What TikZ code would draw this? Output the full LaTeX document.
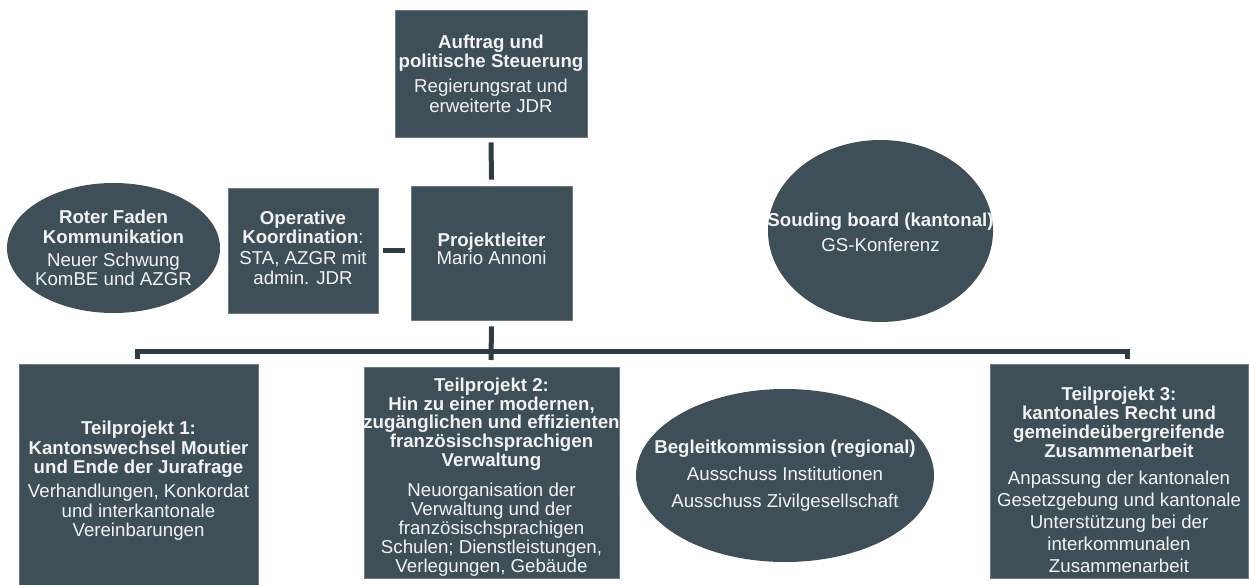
\documentclass[tikz,border=0pt]{standalone}
\usepackage{fontspec}
\setmainfont{Liberation Sans}
\usetikzlibrary{shapes.geometric}
\definecolor{boxc}{RGB}{62,79,88}
\definecolor{linec}{RGB}{46,61,69}
\definecolor{txtc}{RGB}{242,242,242}
\tikzset{
  base/.style={fill=boxc, inner sep=0pt, align=center, text=txtc,
    font=\fontsize{18.67}{19.5}\selectfont},
  rectbox/.style={base, rectangle, draw=boxc!75!white, line width=0.6pt},
  ovalbox/.style={fill=boxc, ellipse, inner sep=0pt},
  ovaltext/.style={inner sep=0pt, align=center, text=txtc,
    font=\fontsize{18.67}{19.5}\selectfont},
  conn/.style={draw=linec, line width=5pt}
}
\newcommand{\gap}{\\[4.5pt]}
\begin{document}
\begin{tikzpicture}[x=1pt,y=-1pt]
\useasboundingbox (0,0) rectangle (1249,585);
\clip (0,0) rectangle (1249,585);

\node[rectbox, minimum width=192pt, minimum height=127pt] (auftrag) at (491,73.5)
  {\textbf{Auftrag und}\\\textbf{politische Steuerung}\\[5.5pt]Regierungsrat und\\erweiterte JDR};
\node[rectbox, minimum width=161pt, minimum height=134pt] (proj) at (491.5,253) {};
\node[ovaltext] (projT) at (491.5,249) {\textbf{Projektleiter}\\[-2pt]Mario Annoni};
\node[rectbox, minimum width=150pt, minimum height=125pt] (oper) at (303,250.5) {};
\node[ovaltext] (operT) at (303,247.5)
  {\textbf{Operative}\\\textbf{Koordination}:\\[1.5pt]STA, AZGR mit\\admin. JDR};
\node[ovalbox, minimum width=213pt, minimum height=130pt] (roter) at (113.5,248) {};
\node[ovaltext] (roterT) at (113.5,248)
  {\textbf{Roter Faden}\\\textbf{Kommunikation}\\[3.5pt]Neuer Schwung\\KomBE und AZGR};
\node[ovalbox, minimum width=225pt, minimum height=182pt] (souding) at (880.5,231) {};
\node[ovaltext] (soudingT) at (880.5,232.5)
  {\textbf{Souding board (kantonal)}\\[5.5pt]GS-Konferenz};

\node[rectbox, minimum width=239pt, minimum height=234pt] (tp1) at (138.5,481)
  {\textbf{Teilprojekt 1:}\\\textbf{Kantonswechsel Moutier}\\\textbf{und Ende der Jurafrage}\gap
   Verhandlungen, Konkordat\\und interkantonale\\Vereinbarungen};
\node[rectbox, minimum width=255pt, minimum height=211pt] (tp2) at (491.5,472.5) {};
\node[ovaltext, font=\fontsize{18.67}{18.7}\selectfont] (tp2T) at (491.5,477)
  {\textbf{Teilprojekt 2:}\\\textbf{Hin zu einer modernen,}\\\textbf{zugänglichen und effizienten}\\
   \textbf{französischsprachigen}\\\textbf{Verwaltung}\\[11pt]
   Neuorganisation der\\[0.3pt]Verwaltung und der\\[0.3pt]französischsprachigen\\[0.3pt]Schulen; Dienstleistungen,\\[0.3pt]Verlegungen, Gebäude};
\node[ovalbox, minimum width=298pt, minimum height=173pt] (begleit) at (785,475.5) {};
\node[ovaltext] (begleitT) at (785,475.5)
  {\textbf{Begleitkommission (regional)}\\[7.5pt]Ausschuss Institutionen\\[7.5pt]Ausschuss Zivilgesellschaft};
\node[rectbox, minimum width=258pt, minimum height=214pt] (tp3) at (1119,471) {};
\node[ovaltext, font=\fontsize{18.67}{19}\selectfont] (tp3T) at (1119,480)
  {\textbf{Teilprojekt 3:}\\\textbf{kantonales Recht und}\\\textbf{gemeindeübergreifende}\\\textbf{Zusammenarbeit}\\[8.5pt]
   Anpassung der kantonalen\\[3pt]Gesetzgebung und kantonale\\[3pt]Unterstützung bei der\\[3pt]interkommunalen\\[3pt]Zusammenarbeit};

\coordinate (bus) at (491,351);
\coordinate (busL) at (137,359);
\coordinate (busR) at (1127,359);
\coordinate (busC) at (491,360);

\draw[conn] ([yshift=-5pt]auftrag.south) -- ([yshift=6pt]proj.north);
\draw[conn, shorten <=5pt, shorten >=6pt] (oper.east) -- (oper.east -| proj.west);
\draw[conn, line join=miter] (busL) |- (bus) -| (busR);
\draw[conn] ([yshift=-6pt]proj.south) -- (busC);
\end{tikzpicture}
\end{document}
